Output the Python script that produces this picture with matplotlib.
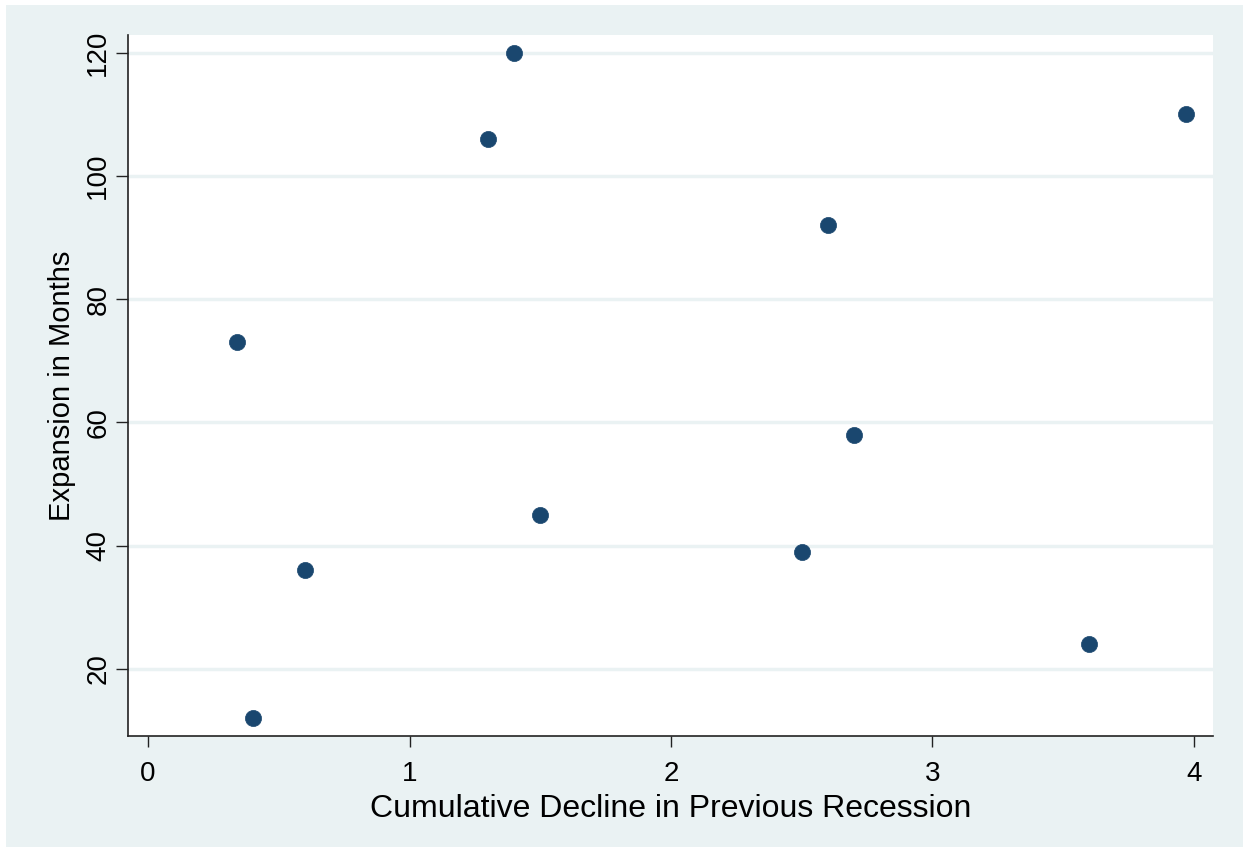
import matplotlib
matplotlib.use("Agg")
import matplotlib.pyplot as plt
from matplotlib.patches import Rectangle

plt.rcParams['font.family'] = ['Liberation Sans', 'DejaVu Sans']

# Data: cumulative decline in previous recession vs. length of following expansion
decline = [0.34, 0.40, 0.60, 1.30, 1.40, 1.50, 2.50, 2.60, 2.70, 3.60, 3.97]
expansion = [73, 12, 36, 106, 120, 45, 39, 92, 58, 24, 110]

x_ticks = [0, 1, 2, 3, 4]
y_ticks = [20, 40, 60, 80, 100, 120]

bg = '#eaf2f3'
marker_color = '#1a476f'

fig = plt.figure(figsize=(12.43, 8.47), dpi=100)
fig.patch.set_facecolor('white')
fig.patches.append(Rectangle((6 / 1243, 0), 1, 1 - 5 / 847, transform=fig.transFigure,
                             facecolor=bg, edgecolor='none', zorder=-10))

ax = fig.add_axes([0.103, 0.131, 0.8729, 0.8277])
ax.set_facecolor('white')

ax.scatter(decline, expansion, s=135, color=marker_color, edgecolors=marker_color,
           linewidths=0.5, zorder=3)

ax.set_xlim(-0.0765, 4.073)
ax.set_ylim(9.1, 122.9)
ax.set_xticks(x_ticks)
ax.set_yticks(y_ticks)
ax.set_xticklabels([str(v) for v in x_ticks])
ax.set_yticklabels([str(v) for v in y_ticks], rotation=90, va='center')

ax.grid(axis='y', color=bg, linewidth=2.5, zorder=1)
ax.set_axisbelow(True)

for side in ['top', 'right']:
    ax.spines[side].set_visible(False)
for side in ['left', 'bottom']:
    ax.spines[side].set_color('#222222')
    ax.spines[side].set_linewidth(1.2)

ax.tick_params(axis='x', direction='out', length=8, width=1, color='#222222',
               labelsize=20, pad=10)
ax.tick_params(axis='y', direction='out', length=9, width=1, color='#222222',
               labelsize=20, pad=3)

ax.set_xlabel('Cumulative Decline in Previous Recession', fontsize=23, labelpad=5)
ax.set_ylabel('Expansion in Months', fontsize=21, labelpad=7)

fig.savefig('out.png', dpi=100, facecolor=fig.get_facecolor())
